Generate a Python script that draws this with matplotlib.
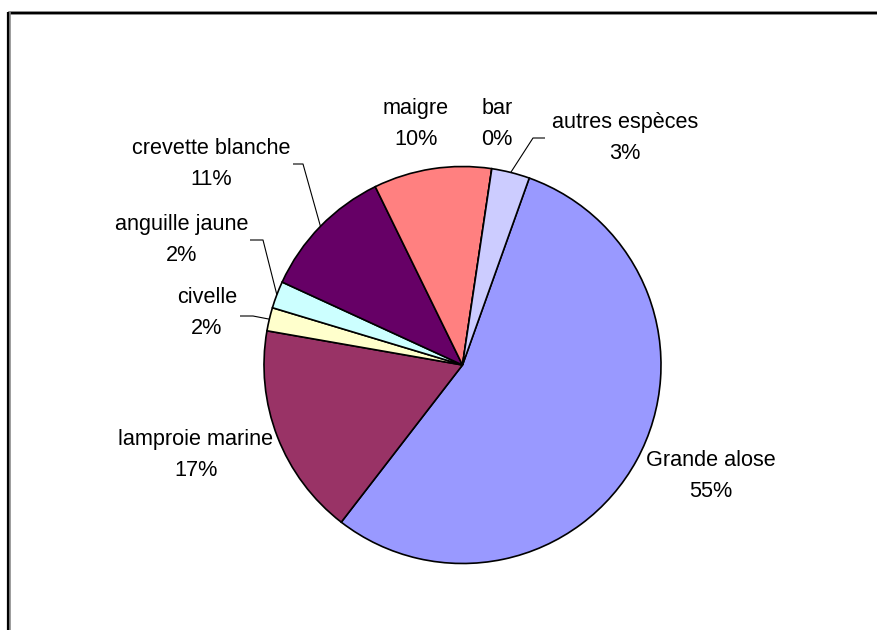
import numpy as np
import matplotlib
matplotlib.use("Agg")
import matplotlib.pyplot as plt

# Catch share by species (percent), clockwise from the start angle
species = ["Grande alose", "lamproie marine", "civelle", "anguille jaune",
           "crevette blanche", "maigre", "bar", "autres espèces"]
shares = [55.0, 17.3, 1.9, 2.2, 10.9, 9.6, 0.0, 3.1]
colors = ["#9999FF", "#993366", "#FFFFCC", "#CCFFFF",
          "#660066", "#FF8080", "#0066CC", "#CCCCFF"]

# Label block centres (pixels from top-left) and optional leader-line elbows
label_pos = {
    "Grande alose": (711, 476),
    "lamproie marine": (196, 455),
    "civelle": (207, 313),
    "anguille jaune": (182, 240),
    "crevette blanche": (211, 164),
    "maigre": (416, 124),
    "bar": (497, 124),
    "autres espèces": (625, 138),
}
leader_elbow = {
    "civelle": ((240, 316), (253, 316)),
    "anguille jaune": ((250, 240), (263, 240)),
    "crevette blanche": ((293, 164), (303, 164)),
    "autres espèces": ((545, 138), (533, 138)),
}

W, H = 878, 630
fig = plt.figure(figsize=(W / 100, H / 100), dpi=100)
ax = fig.add_axes([0, 0, 1, 1])

cx, cy, r = 462.5, H - 365, 198.5
start = 90 - 19.65

wedges, _ = ax.pie(shares, colors=colors, startangle=start, counterclock=False,
                   center=(cx, cy), radius=r,
                   wedgeprops=dict(edgecolor="black", linewidth=1.2))

ax.set_xlim(0, W)
ax.set_ylim(0, H)
ax.set_aspect("equal")
ax.axis("off")

for name, w, v in zip(species, wedges, shares):
    lx, ly = label_pos[name]
    ax.text(lx, H - ly, f"{name}\n{round(v)}%", ha="center", va="center",
            fontsize=15.6, linespacing=1.6, color="black",
            family=["Liberation Sans", "DejaVu Sans"])
    if name in leader_elbow:
        mid = np.deg2rad((w.theta1 + w.theta2) / 2)
        ex, ey = cx + r * np.cos(mid), cy + r * np.sin(mid)
        (ax0, ay0), (ax1, ay1) = leader_elbow[name]
        ax.plot([ax0, ax1, ex], [H - ay0, H - ay1, ey], color="black",
                linewidth=0.8, solid_capstyle="butt")

# Chart area border (top and left edges visible)
ax.plot([8.5, W + 5], [H - 12.5, H - 12.5], color="#888888", linewidth=2.6,
        solid_capstyle="butt", clip_on=False)
ax.plot([9, W + 5], [H - 13, H - 13], color="black", linewidth=1.6,
        solid_capstyle="butt", clip_on=False)
ax.plot([9, 9], [H - 12, -5], color="#888888", linewidth=2.6,
        solid_capstyle="butt", clip_on=False)
ax.plot([8.5, 8.5], [H - 12, -5], color="black", linewidth=1.6,
        solid_capstyle="butt", clip_on=False)

fig.savefig("out.png", dpi=100, facecolor="white")
